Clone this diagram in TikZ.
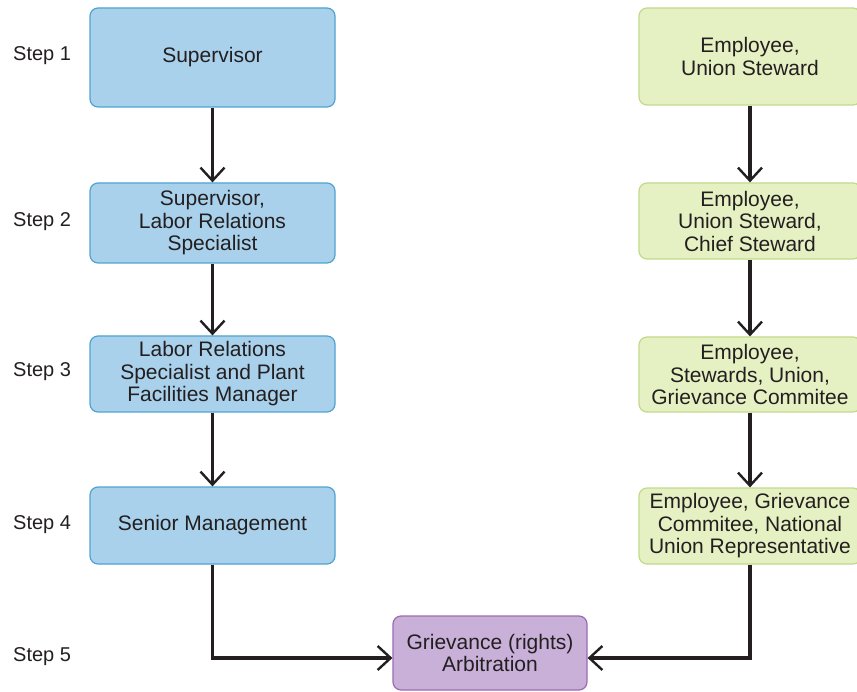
\documentclass[tikz,border=0pt]{standalone}
\usepackage{fontspec}
\setmainfont{Liberation Sans}
\usetikzlibrary{arrows.meta}
\definecolor{txt}{HTML}{231F20}
\definecolor{bluefill}{HTML}{A9D1EB}
\definecolor{blueline}{HTML}{4FA3D1}
\definecolor{greenfill}{HTML}{E5F0C3}
\definecolor{greenline}{HTML}{C2D98A}
\definecolor{purplefill}{HTML}{C9B0D8}
\definecolor{purpleline}{HTML}{9A6BB3}
\tikzset{
  box/.style={rectangle, rounded corners=8pt, line width=1.2pt, inner sep=0pt,
    align=center, text=txt, font=\fontsize{21}{22.5}\selectfont},
  bluebox/.style={box, fill=bluefill, draw=blueline, minimum width=245pt},
  greenbox/.style={box, fill=greenfill, draw=greenline, minimum width=222pt},
  purplebox/.style={box, fill=purplefill, draw=purpleline, minimum width=194pt, minimum height=74pt},
  steplabel/.style={anchor=west, inner sep=0pt, text=txt, font=\fontsize{20}{22}\selectfont},
  conn/.style={draw=txt, line width=3.2pt, -{Straight Barb[length=13pt,width=24pt,line width=2.4pt]}}
}
\begin{document}
\begin{tikzpicture}[x=1pt,y=-1pt]
\useasboundingbox (0,0) rectangle (857,692);
\clip (0,0) rectangle (857,692);
% step labels
\node[steplabel] (s1) at (13,56) {Step 1};
\node[steplabel] (s2) at (13,222) {Step 2};
\node[steplabel] (s3) at (13,372) {Step 3};
\node[steplabel] (s4) at (13,525) {Step 4};
\node[steplabel] (s5) at (13,657) {Step 5};
% left column
\node[bluebox, minimum height=99pt] (L1) at (212.5,57.5) {Supervisor};
\node[bluebox, minimum height=80pt] (L2) at (212.5,223) {Supervisor,\\Labor Relations\\Specialist};
\node[bluebox, minimum height=76pt] (L3) at (212.5,374) {Labor Relations\\Specialist and Plant\\Facilities Manager};
\node[bluebox, minimum height=77pt] (L4) at (212.5,525.5) {Senior Management};
% right column
\node[greenbox, minimum height=97pt] (R1) at (750,56.5) {Employee,\\Union Steward};
\node[greenbox, minimum height=76pt] (R2) at (750,221) {Employee,\\Union Steward,\\Chief Steward};
\node[greenbox, minimum height=75pt] (R3) at (750,374.5) {Employee,\\Stewards, Union,\\Grievance Commitee};
\node[greenbox, minimum height=76pt] (R4) at (750,526) {Employee, Grievance\\Commitee, National\\Union Representative};
% bottom
\node[purplebox] (P) at (490,653) {Grievance (rights)\\Arbitration};
% connectors
\draw[conn] (L1) -- (L2);
\draw[conn] (L2) -- (L3);
\draw[conn] (L3) -- (L4);
\draw[conn] (R1) -- (R2);
\draw[conn] (R2) -- (R3);
\draw[conn] (R3) -- (R4);
\draw[conn] (L4.south) |- ([yshift=-5pt]P.west);
\draw[conn] (R4.south) |- ([yshift=-5pt]P.east);
\end{tikzpicture}
\end{document}
